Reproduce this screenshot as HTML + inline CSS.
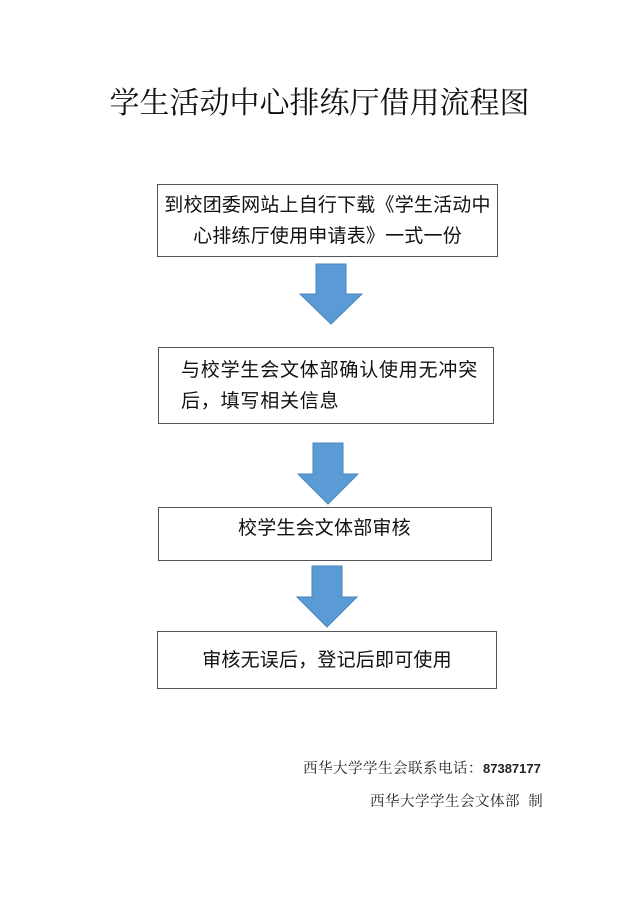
<!DOCTYPE html>
<html><head><meta charset="utf-8"><style>
body{margin:0;width:639px;height:905px;background:#fff;position:relative;overflow:hidden}
.t{position:absolute;left:0;width:639px;top:82px;text-align:center;font:30px "Noto Serif CJK SC","Liberation Serif",serif;color:#111;line-height:36px}
.b{position:absolute;border:1.5px solid #555;box-sizing:border-box;font:19px "Liberation Sans","Noto Sans CJK SC",sans-serif;letter-spacing:0.2px;color:#111;text-align:center;line-height:31px;display:flex;align-items:center;justify-content:center}
.f{position:absolute;font:14.5px "Liberation Serif","Noto Serif CJK SC",serif;color:#222;white-space:nowrap}
</style></head><body>
<div class="t">学生活动中心排练厅借用流程图</div>
<div class="b" style="left:157px;top:184px;width:341px;height:73px">到校团委网站上自行下载《学生活动中<br>心排练厅使用申请表》一式一份</div>
<div class="b" style="left:158px;top:347px;width:336px;height:77px;text-align:left;justify-content:flex-start;padding-left:22px;letter-spacing:0.8px">与校学生会文体部确认使用无冲突<br>后，填写相关信息</div>
<div class="b" style="left:158px;top:507px;width:334px;height:54px;justify-content:flex-start;padding-left:79px;align-items:flex-start;padding-top:5px">校学生会文体部审核</div>
<div class="b" style="left:157px;top:631px;width:340px;height:58px">审核无误后，登记后即可使用</div>
<svg width="639" height="905" style="position:absolute;left:0;top:0">
<g fill="#5b9bd5" stroke="#4a86c0" stroke-width="1">
<polygon points="316,264 346,264 346,294 362,294 331,324 300,294 316,294"/>
<polygon points="313,443 343,443 343,474 358,474 328,504 298,474 313,474"/>
<polygon points="312,566 342,566 342,597 357,597 327,627 297,597 312,597"/>
</g></svg>
<div class="f" style="left:303px;top:757px;letter-spacing:0.5px">西华大学学生会联系电话：<span style="font-family:'Liberation Sans',sans-serif;font-weight:bold;font-size:13px;letter-spacing:0">87387177</span></div>
<div class="f" style="left:370px;top:790px;letter-spacing:0.5px">西华大学学生会文体部&nbsp;&nbsp;制</div>
</body></html>
